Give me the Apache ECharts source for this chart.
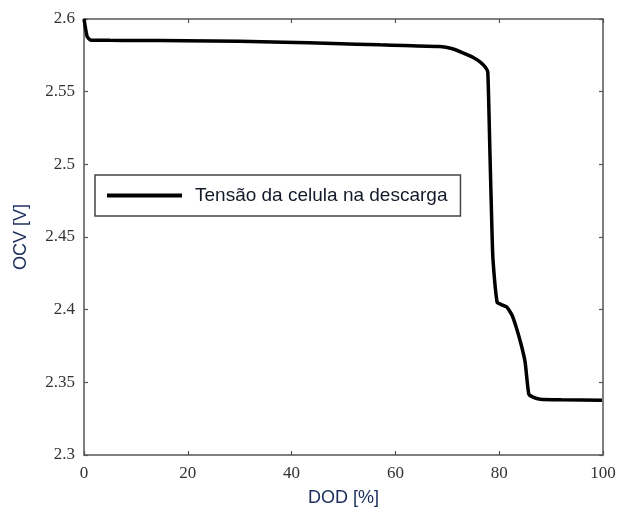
<!DOCTYPE html>
<html>
<head>
<meta charset="utf-8">
<script src="https://cdn.jsdelivr.net/npm/echarts@6/dist/echarts.min.js"></script>
<style>
  html, body {margin: 0; padding: 0; background: #fff;}
  #chart {width: 619px; height: 515px;}
</style>
</head>
<body>
<div id="chart"></div>
<script>
// DOD [%] e OCV [V]
const dod = [0, 0.6, 1.2, 5, 10, 19.3, 30, 38.5, 48, 57, 61.7, 68.6, 71, 73, 75, 76.3, 77.3, 77.8, 78.2, 78.6, 78.8, 79.6, 80.4, 81.5, 82.5, 83.4, 84.3, 85.0, 85.7, 86.5, 87.9, 92, 99.8];
const ocv = [2.6, 2.588, 2.5856, 2.5853, 2.5852, 2.5851, 2.5847, 2.584, 2.5832, 2.5822, 2.5817, 2.581, 2.5795, 2.5767, 2.5735, 2.5705, 2.567, 2.5636, 2.51, 2.455, 2.4346, 2.405, 2.4035, 2.4016, 2.396, 2.3865, 2.375, 2.3638, 2.3419, 2.3398, 2.3384, 2.338, 2.3377];
const xTicks = [0, 20, 40, 60, 80, 100];
const yTicks = [2.3, 2.35, 2.4, 2.45, 2.5, 2.55, 2.6];

const serieName = 'Tensão da celula na descarga';
const points = dod.map((d, i) => [d, ocv[i]]);

const boxLine = {show: true, onZero: false, lineStyle: {color: '#555', width: 1.5}};
const inTick = {show: true, inside: true, length: 4, lineStyle: {color: '#555', width: 1.2}};
const tickFont = {color: '#333', fontFamily: 'Liberation Serif', fontSize: 17};
const nameFont = {color: '#1b2c5c', fontFamily: 'Liberation Sans', fontSize: 18};

const myChart = echarts.init(document.getElementById('chart'), null, {renderer: 'canvas'});
myChart.setOption({
  animation: false,
  backgroundColor: '#fff',
  grid: {left: 84, top: 19, right: 16, bottom: 60, containLabel: false},
  legend: {
    data: [serieName],
    left: 95, top: 175,
    orient: 'horizontal',
    icon: 'rect',
    borderColor: '#444', borderWidth: 1.5,
    padding: [11, 13, 11, 12],
    itemWidth: 75, itemHeight: 4, itemGap: 0,
    textStyle: {color: '#151a2a', fontFamily: 'Liberation Sans', fontSize: 19, padding: [0, 0, 0, 8]}
  },
  xAxis: [
    {
      type: 'value', min: 0, max: 100, interval: 20, position: 'bottom',
      name: 'DOD [%]', nameLocation: 'middle', nameGap: 34,
      nameTextStyle: nameFont,
      axisLine: boxLine, axisTick: inTick,
      axisLabel: Object.assign({margin: 10, formatter: v => String(v)}, tickFont),
      splitLine: {show: false}
    },
    {
      type: 'value', min: 0, max: 100, interval: 20, position: 'top',
      axisLine: boxLine, axisTick: inTick, axisLabel: {show: false}, splitLine: {show: false}
    }
  ],
  yAxis: [
    {
      type: 'value', min: 2.3, max: 2.6, interval: 0.05, position: 'left',
      name: 'OCV [V]', nameLocation: 'middle', nameGap: 54, nameRotate: 90,
      nameTextStyle: nameFont,
      axisLine: boxLine, axisTick: inTick,
      axisLabel: Object.assign({margin: 9, formatter: v => String(+v.toFixed(2))}, tickFont),
      splitLine: {show: false}
    },
    {
      type: 'value', min: 2.3, max: 2.6, interval: 0.05, position: 'right',
      axisLine: boxLine, axisTick: inTick, axisLabel: {show: false}, splitLine: {show: false}
    }
  ],
  series: [{
    name: serieName,
    type: 'line',
    data: points,
    showSymbol: false,
    symbol: 'none',
    smooth: 0.15,
    lineStyle: {color: '#000', width: 3.5},
    itemStyle: {color: '#000'}
  }]
});
</script>
</body>
</html>
